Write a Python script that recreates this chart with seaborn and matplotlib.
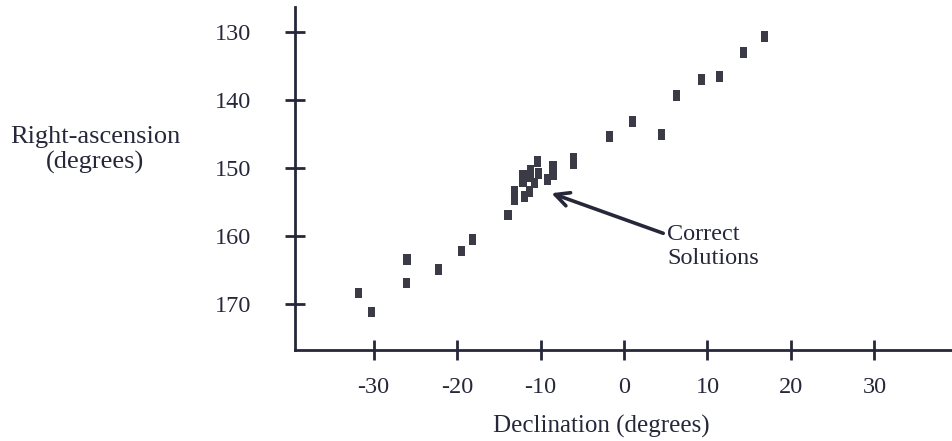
import numpy as np
import pandas as pd
import matplotlib
matplotlib.use("Agg")
import matplotlib.pyplot as plt
import seaborn as sns

# -------------------- Data --------------------
declination = [16.8, 14.3, 11.4, 9.3, 6.3, 1.0, -1.7, 4.5, -6.0, -6.1,
               -10.4, -8.5, -8.5, -12.1, -12.1, -11.2, -11.2, -10.2, -9.2, -10.7,
               -11.3, -11.9, -13.1, -13.1, -13.9,
               -18.2, -19.5, -22.2, -26.0, -26.1, -31.8, -30.3]
right_ascension = [130.6, 133.0, 136.5, 137.0, 139.3, 143.1, 145.4, 145.1, 148.6, 149.4,
                   149.0, 149.7, 150.9, 151.1, 152.0, 150.3, 151.2, 150.8, 151.7, 152.2,
                   153.5, 154.2, 153.5, 154.7, 156.9,
                   160.5, 162.2, 164.9, 163.5, 166.9, 168.4, 171.2]
x_ticks = [-30, -20, -10, 0, 10, 20, 30]
y_ticks = [130, 140, 150, 160, 170]
arrow_tip = (-8.7, 153.7)
arrow_tail = (4.7, 159.6)

df = pd.DataFrame({"Declination": declination, "RA": right_ascension})

# -------------------- Style --------------------
sns.set_style("white")
plt.rcParams["font.family"] = ["Liberation Serif", "DejaVu Serif"]
INK = "#26283a"

fig = plt.figure(figsize=(9.52, 4.41), dpi=100)
ax = fig.add_axes([0.31, 0.206, 0.69, 0.778])

# small upright rectangle markers, like the printed ones
rect = [(-0.33, -0.5), (0.33, -0.5), (0.33, 0.5), (-0.33, 0.5)]
sns.scatterplot(data=df, x="Declination", y="RA", ax=ax, marker=rect,
                s=60, color="#3a3b47", edgecolor="none", linewidth=0, legend=False)

ax.set_xlim(-39.4, 39.3)
ax.set_ylim(176.8, 126.3)
ax.set_xticks(x_ticks)
ax.set_yticks(y_ticks)
ax.set_xticklabels([str(t) for t in x_ticks])
ax.set_yticklabels([str(t) for t in y_ticks])

for side in ["top", "right"]:
    ax.spines[side].set_visible(False)
for side in ["left", "bottom"]:
    ax.spines[side].set_linewidth(2.0)
    ax.spines[side].set_color(INK)

# cross-shaped ticks (the white style switches them off)
ax.tick_params(axis="both", bottom=True, left=True, direction="inout", length=15,
               width=2.0, color=INK, labelsize=17.5, labelcolor=INK)
ax.tick_params(axis="x", pad=12)
ax.tick_params(axis="y", pad=24)

ax.set_xlabel("Declination (degrees)", fontsize=18, color=INK)
ax.xaxis.set_label_coords(0.466, -0.19)
ax.set_ylabel("Right-ascension\n(degrees)", fontsize=19, color=INK, rotation=0,
              ha="center", va="center", multialignment="center", linespacing=1.15)
ax.yaxis.set_label_coords(-0.304, 0.583)

# -------------------- Annotation --------------------
ax.annotate("", xy=arrow_tip, xytext=arrow_tail,
            arrowprops=dict(arrowstyle="->,head_length=1.0,head_width=0.5",
                            color=INK, lw=2.6, shrinkA=0, shrinkB=0))
ax.text(arrow_tail[0] + 0.5, arrow_tail[1] + 2.0, "Correct\nSolutions", fontsize=17.5,
        color=INK, ha="left", va="center", linespacing=1.2)

fig.savefig("out.png", dpi=100, facecolor="white")
